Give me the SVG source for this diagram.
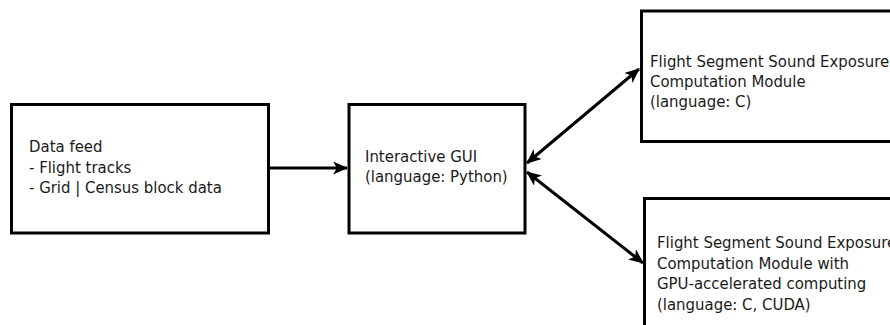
<svg xmlns="http://www.w3.org/2000/svg" width="890" height="325" viewBox="0 0 890 325">
  <style>
    .box { fill: #ffffff; stroke: #000000; stroke-width: 3; }
    .lbl { font-family: "DejaVu Sans Condensed", "DejaVu Sans", sans-serif; font-size: 16.6px; fill: #1a1a1a; }
    .wire { fill: none; stroke: #000000; stroke-width: 3; }
  </style>
  <defs>
    <marker id="head" viewBox="0 0 15 13" refX="14" refY="6.5" markerWidth="15" markerHeight="13" markerUnits="userSpaceOnUse" orient="auto-start-reverse">
      <path d="M0,0 L15,6.5 L0,13 L4,6.5 Z" fill="#000000"/>
    </marker>
  </defs>
  <rect width="890" height="325" fill="#ffffff"/>

  <g id="data-feed">
    <rect class="box" x="11.5" y="104.5" width="257" height="128.5"/>
    <text class="lbl">
      <tspan x="29" y="152">Data feed</tspan>
      <tspan x="29" y="172.5">- Flight tracks</tspan>
      <tspan x="29" y="193">- Grid | Census block data</tspan>
    </text>
  </g>

  <g id="gui">
    <rect class="box" x="349" y="104.5" width="176" height="128.5"/>
    <text class="lbl">
      <tspan x="365" y="162">Interactive GUI</tspan>
      <tspan x="365" y="182">(language: Python)</tspan>
    </text>
  </g>

  <g id="cpu-module">
    <rect class="box" x="641.5" y="11" width="260" height="130.5"/>
    <text class="lbl">
      <tspan x="650" y="66.5">Flight Segment Sound Exposure</tspan>
      <tspan x="650" y="87">Computation Module</tspan>
      <tspan x="650" y="107">(language: C)</tspan>
    </text>
  </g>

  <g id="gpu-module">
    <rect class="box" x="644.5" y="198.5" width="260" height="140"/>
    <text class="lbl">
      <tspan x="657" y="248">Flight Segment Sound Exposure</tspan>
      <tspan x="657" y="268.5">Computation Module with</tspan>
      <tspan x="657" y="289">GPU-accelerated computing</tspan>
      <tspan x="657" y="310">(language: C, CUDA)</tspan>
    </text>
  </g>

  <g id="connectors">
    <line class="wire" x1="270" y1="168" x2="347" y2="168" marker-end="url(#head)"/>
    <line class="wire" x1="527" y1="163" x2="639" y2="69" marker-start="url(#head)" marker-end="url(#head)"/>
    <line class="wire" x1="527" y1="172" x2="643" y2="263" marker-start="url(#head)" marker-end="url(#head)"/>
  </g>
</svg>
